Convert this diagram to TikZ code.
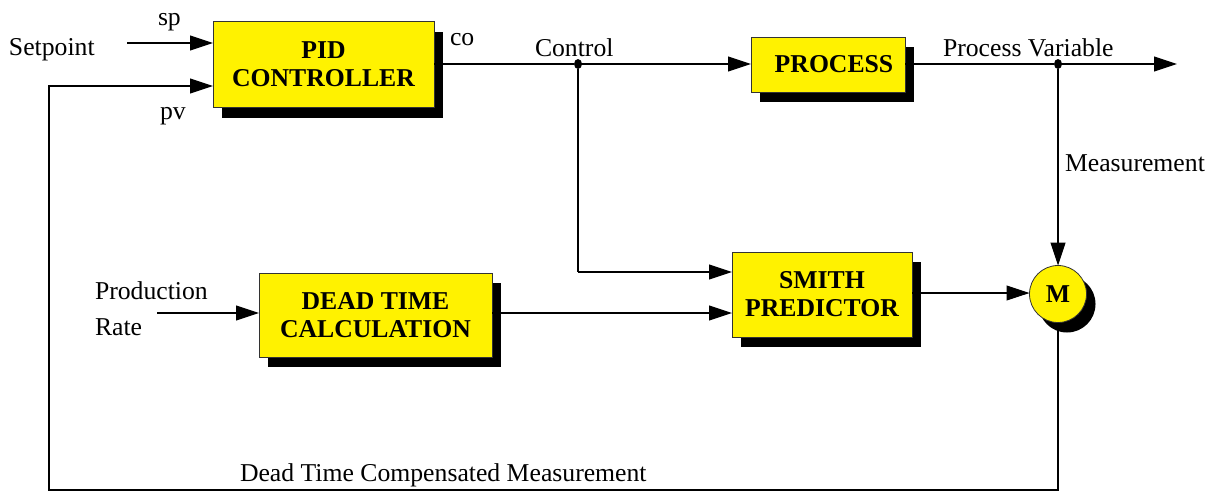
\documentclass[tikz,border=0pt]{standalone}
\usepackage{fontspec}
\setmainfont{Liberation Serif}
\usetikzlibrary{arrows.meta,shadows,shapes.geometric}
\begin{document}
\begin{tikzpicture}[x=1pt,y=-1pt,
  every node/.style={inner sep=0pt,outer sep=0pt},
  txt/.style={font=\fontsize{25.7}{28}\selectfont},
  blockbox/.style={rectangle,draw=black!80,line width=0.8pt,fill=yellow,
    align=center,font=\fontsize{25.7}{28}\selectfont\bfseries,
    drop shadow={shadow xshift=9pt,shadow yshift=-10pt,fill=black,opacity=1}},
  mixer/.style={circle,draw=black!80,line width=0.8pt,fill=yellow,minimum size=57pt,
    font=\fontsize{25.7}{28}\selectfont\bfseries,
    drop shadow={shadow xshift=9pt,shadow yshift=-10pt,fill=black,opacity=1}},
  sig/.style={line width=1.1pt,-{Triangle[length=23pt,width=15pt]}},
  wire/.style={line width=1.1pt},
  joint/.style={ellipse,fill=black,minimum width=8pt,minimum height=10pt}]
\useasboundingbox (0,0) rectangle (1215,491);

% blocks
\node[blockbox,minimum width=221pt,minimum height=86pt] (pid) at (323.5,64.5) {PID\\CONTROLLER};
\node[blockbox,minimum width=154pt,minimum height=55pt] (proc) at (828,64.5) {\hspace*{12pt}PROCESS};
\node[blockbox,minimum width=180pt,minimum height=85pt] (smith) at (822,294.5) {SMITH\\PREDICTOR};
\node[blockbox,minimum width=233pt,minimum height=84pt] (dead) at (375.5,315) {DEAD TIME\\CALCULATION};
\node[mixer] (mix) at (1058,294) {M};

% junctions and free ends
\node[joint] (jc) at (578,64) {};
\node[joint] (jpv) at (1058,64) {};
\coordinate (spin) at (127,43);
\coordinate (prin) at (157,313);
\coordinate (pvout) at (1177,64);
\coordinate (cdown) at (578,272);
\coordinate (fbr) at (1058,490);
\coordinate (fbl) at (49,490);
\coordinate (fbt) at (49,86);

% labels
\node[txt,anchor=base west] (lsetp) at (9,55) {Setpoint};
\node[txt,anchor=base west] (lsp) at (158,25) {sp};
\node[txt,anchor=base west] (lpv) at (160,119) {pv};
\node[txt,anchor=base west] (lco) at (450,45) {co};
\node[txt,anchor=base west] (lctl) at (535,56) {Control};
\node[txt,anchor=base west] (lpvar) at (943,56) {Process Variable};
\node[txt,anchor=base west] (lmeas) at (1065,171) {Measurement};
\node[txt,anchor=base west] (lprod) at (95,299) {Production};
\node[txt,anchor=base west] (lrate) at (95,335) {Rate};
\node[txt,anchor=base west] (ldtc) at (240,481) {Dead Time Compensated Measurement};

% connectors
\draw[sig] (spin) -- (spin -| pid.west);
\draw[wire] (pid.east |- jc) -- (jc);
\draw[sig] (jc) -- (proc.west |- jc);
\draw[wire] (proc.east |- jpv) -- (jpv);
\draw[sig] (jpv) -- (pvout);
\draw[sig] (jpv) -- (mix.north);
\draw[wire] (jc) -- (cdown);
\draw[sig] (cdown) -- (cdown -| smith.west);
\draw[sig] (prin) -- (prin -| dead.west);
\draw[sig] (dead.east |- prin) -- (prin -| smith.west);
\draw[sig] (smith.east |- 0,293) -- (mix.west |- 0,293);
\draw[sig] (mix.south) -- (fbr) -- (fbl) -- (fbt) -- (fbt -| pid.west);
\end{tikzpicture}
\end{document}
